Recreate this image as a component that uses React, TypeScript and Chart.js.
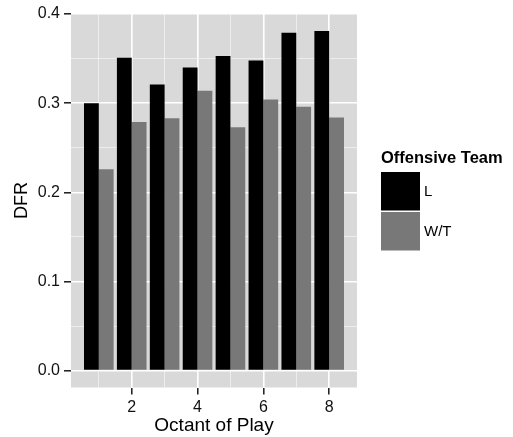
import React, { useEffect, useRef } from 'react';
import { Chart, registerables } from 'chart.js';

Chart.register(...registerables);

const octants = [1, 2, 3, 4, 5, 6, 7, 8];
const seriesL = [0.300, 0.351, 0.321, 0.340, 0.353, 0.348, 0.379, 0.381];
const seriesWT = [0.226, 0.279, 0.283, 0.314, 0.273, 0.304, 0.296, 0.284];
const seriesNames = ['L', 'W/T'];
const seriesColors = ['#000000', '#787878'];
const xMajorTicks = [2, 4, 6, 8];
const xMinorTicks = [1, 3, 5, 7];
const yMajorTicks = [0, 0.1, 0.2, 0.3, 0.4];
const yMinorTicks = [0.05, 0.15, 0.25, 0.35];
const xLimits = [0.155, 8.845];
const yLimits = [-0.019, 0.4005];
const xTitle = 'Octant of Play';
const yTitle = 'DFR';
const legendTitle = 'Offensive Team';

const FONT = "'Liberation Sans', Arial, Helvetica, sans-serif";
const PANEL_BG = '#D9D9D9';
const TICK_COLOR = '#1A1A1A';
const LABEL_COLOR = '#111111';

const isMajor = (list: number[], v: number) => list.some((m) => Math.abs(m - v) < 1e-9);

const panelPlugin = {
  id: 'panelBg',
  beforeDraw(chart: any) {
    const { ctx, chartArea } = chart;
    ctx.save();
    ctx.fillStyle = PANEL_BG;
    ctx.fillRect(chartArea.left, chartArea.top, chartArea.right - chartArea.left, chartArea.bottom - chartArea.top);
    ctx.restore();
  },
};

const legendPlugin = {
  id: 'ggLegend',
  afterDraw(chart: any) {
    const { ctx, chartArea } = chart;
    const x0 = chartArea.right + 24;
    ctx.save();
    ctx.fillStyle = '#000';
    ctx.font = `bold 16.5px ${FONT}`;
    ctx.textAlign = 'left';
    ctx.textBaseline = 'middle';
    ctx.fillText(legendTitle, x0, 158);
    const keyTop = 172;
    const keyH = 40;
    const keyW = 39;
    seriesNames.forEach((name, i) => {
      const y = keyTop + i * keyH;
      ctx.fillStyle = seriesColors[i];
      ctx.fillRect(x0, y, keyW, keyH - 1.5);
      ctx.fillStyle = '#000';
      ctx.font = `15px ${FONT}`;
      ctx.fillText(name, x0 + keyW + 4, y + (keyH - 1.5) / 2 + 1);
    });
    ctx.restore();
  },
};

export default function App() {
  const canvasRef = useRef<HTMLCanvasElement | null>(null);

  useEffect(() => {
    if (!canvasRef.current) return;
    Chart.defaults.font.family = FONT;
    const chart = new Chart(canvasRef.current, {
      type: 'bar',
      data: {
        datasets: [
          {
            label: seriesNames[0],
            data: octants.map((o, i) => ({ x: o, y: seriesL[i] })),
            backgroundColor: seriesColors[0],
            borderWidth: 0,
            categoryPercentage: 0.9,
            barPercentage: 1.0,
          },
          {
            label: seriesNames[1],
            data: octants.map((o, i) => ({ x: o, y: seriesWT[i] })),
            backgroundColor: seriesColors[1],
            borderWidth: 0,
            categoryPercentage: 0.9,
            barPercentage: 1.0,
          },
        ],
      },
      options: {
        animation: false,
        responsive: false,
        devicePixelRatio: 1,
        layout: { padding: { top: 13, right: 156, bottom: 0, left: 0 } },
        plugins: { legend: { display: false }, tooltip: { enabled: false }, title: { display: false } },
        scales: {
          x: {
            type: 'linear',
            min: xLimits[0],
            max: xLimits[1],
            offset: false,
            border: { display: false },
            afterBuildTicks: (scale: any) => {
              const vals = [...xMinorTicks, ...xMajorTicks].sort((a, b) => a - b);
              scale.ticks = vals.map((v) => ({ value: v }));
            },
            afterFit: (scale: any) => {
              scale.height = 49.5;
            },
            grid: {
              offset: false,
              drawOnChartArea: true,
              drawTicks: true,
              tickLength: 7,
              color: (c: any) => (isMajor(xMajorTicks, c.tick?.value) ? '#FFFFFF' : '#F2F2F2'),
              lineWidth: (c: any) => (isMajor(xMajorTicks, c.tick?.value) ? 1.6 : 0.8),
              tickColor: (c: any) => (isMajor(xMajorTicks, c.tick?.value) ? TICK_COLOR : 'rgba(0,0,0,0)'),
              tickWidth: 1.5,
            },
            ticks: {
              autoSkip: false,
              maxRotation: 0,
              minRotation: 0,
              padding: 3,
              color: LABEL_COLOR,
              font: { size: 16, family: FONT },
              callback: (v: any) => (isMajor(xMajorTicks, Number(v)) ? String(v) : ''),
            },
            title: {
              display: true,
              text: xTitle,
              color: '#000000',
              font: { size: 19, family: FONT, lineHeight: 1.2 },
              padding: { top: 0, bottom: 0 },
            },
          },
          y: {
            type: 'linear',
            min: yLimits[0],
            max: yLimits[1],
            border: { display: false },
            afterBuildTicks: (scale: any) => {
              const vals = [...yMinorTicks, ...yMajorTicks].sort((a, b) => a - b);
              scale.ticks = vals.map((v) => ({ value: v }));
            },
            afterFit: (scale: any) => {
              scale.width = 71;
            },
            grid: {
              drawOnChartArea: true,
              drawTicks: true,
              tickLength: 7,
              color: (c: any) => (isMajor(yMajorTicks, c.tick?.value) ? '#FFFFFF' : '#F2F2F2'),
              lineWidth: (c: any) => (isMajor(yMajorTicks, c.tick?.value) ? 1.6 : 0.8),
              tickColor: (c: any) => (isMajor(yMajorTicks, c.tick?.value) ? TICK_COLOR : 'rgba(0,0,0,0)'),
              tickWidth: 1.5,
            },
            ticks: {
              autoSkip: false,
              padding: 4,
              color: LABEL_COLOR,
              font: { size: 16, family: FONT },
              callback: (v: any) => (isMajor(yMajorTicks, Number(v)) ? Number(v).toFixed(1) : ''),
            },
            title: {
              display: true,
              text: yTitle,
              color: '#000000',
              font: { size: 18, family: FONT, lineHeight: 1.2 },
              padding: { top: 11, bottom: 0 },
            },
          },
        },
      },
      plugins: [panelPlugin, legendPlugin],
    } as any);
    return () => chart.destroy();
  }, []);

  return (
    <div style={{ position: 'fixed', left: 0, top: 0, width: 513, height: 437, background: '#FFFFFF' }}>
      <canvas ref={canvasRef} width={513} height={437} style={{ display: 'block', width: 513, height: 437 }} />
    </div>
  );
}
